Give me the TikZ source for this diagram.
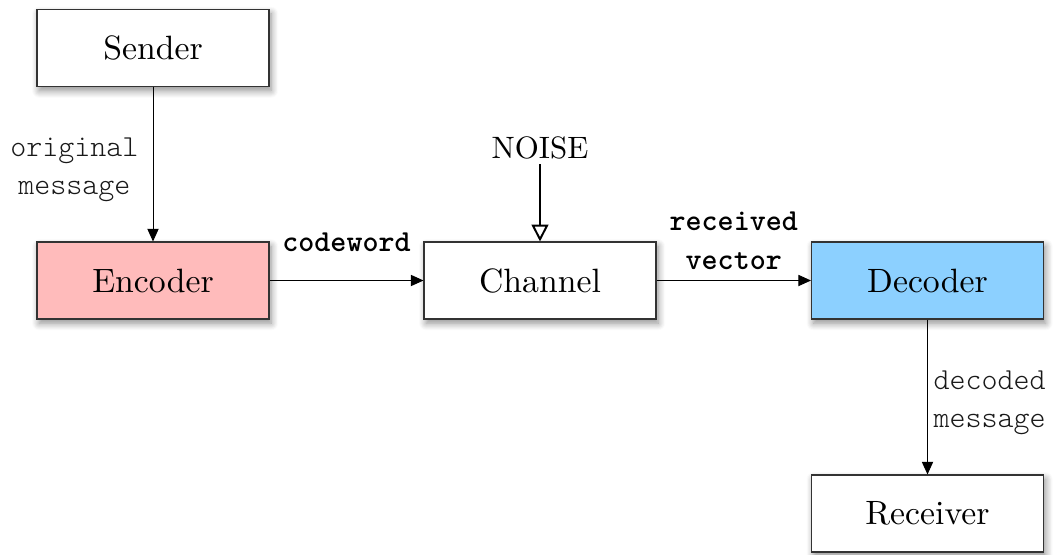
\documentclass[tikz,border=0pt]{standalone}
\usepackage{fontspec}
\setmainfont{lmroman10-regular}[Extension=.otf, BoldFont=lmroman10-bold]
\setmonofont{lmmonolt10-regular}[Extension=.otf, BoldFont=lmmonolt10-bold]
\usetikzlibrary{arrows.meta,shadows.blur}
\definecolor{encpink}{RGB}{255,187,187}
\definecolor{decblue}{RGB}{140,208,255}
\begin{document}
\begin{tikzpicture}[
    block/.style={draw=black!80, line width=0.75pt, fill=white, minimum width=5.8cm, minimum height=1.925cm,
      font=\fontsize{24}{28}\selectfont, blur shadow={shadow xshift=1.5pt, shadow yshift=-3pt, shadow blur radius=5pt, shadow blur steps=8, shadow opacity=45}},
    flow/.style={line width=0.7pt, -{Triangle[length=9pt,width=8pt]}},
    plain/.style={font=\ttfamily\fontsize{21.7}{27}\selectfont, text=black!90},
    bold/.style={font=\ttfamily\bfseries\fontsize{21.7}{28}\selectfont}
  ]
    \useasboundingbox (0,0) rectangle (26.375,-13.85);
    \node[block] (sender) at (3.825,-1.2) {Sender};
    \node[block, fill=encpink] (encoder) at (3.825,-7.0125) {Encoder};
    \node[block] (channel) at (13.5,-7.0125) {Channel};
    \node[block, fill=decblue] (decoder) at (23.1875,-7.0125) {Decoder};
    \node[block] (receiver) at (23.1875,-12.8375) {Receiver};
    \node[font=\fontsize{22}{26}\selectfont] (noise) at (13.5,-3.7) {NOISE};

    \draw[flow] (sender) -- (encoder) node[midway, left, plain, align=center, inner sep=10pt, yshift=-0.14cm] {original\\message};
    \draw[flow] (encoder) -- (channel) node[midway, yshift=0.95cm, bold] {codeword};
    \draw[line width=1.4pt, -{Triangle[open,length=12pt,width=12pt]}] (noise) -- (channel);
    \draw[flow] (channel) -- (decoder) node[midway, yshift=1cm, bold, align=center] {received\\vector};
    \draw[flow] (decoder) -- (receiver) node[midway, right, plain, align=left, inner sep=4pt, yshift=-0.15cm] {decoded\\message};
  \end{tikzpicture}
\end{document}
